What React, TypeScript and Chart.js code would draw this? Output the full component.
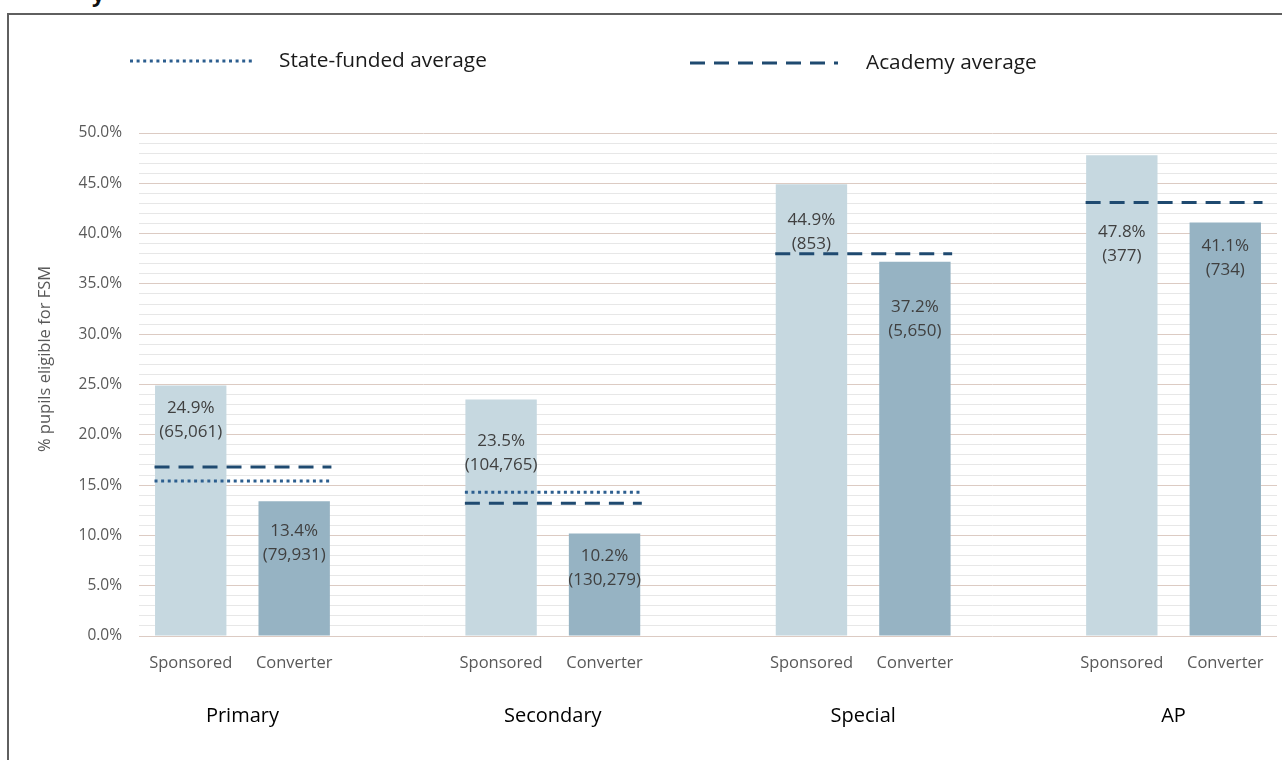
import React, { useEffect, useRef } from 'react';
import { Chart, registerables } from 'chart.js';

Chart.register(...registerables);

// ---------- data ----------
const groups = ['Primary', 'Secondary', 'Special', 'AP'];
const barTypes = ['Sponsored', 'Converter'];
const sponsoredPct = [24.9, 23.5, 44.9, 47.8];
const converterPct = [13.4, 10.2, 37.2, 41.1];
const sponsoredPupils = [65061, 104765, 853, 377];
const converterPupils = [79931, 130279, 5650, 734];
const stateFundedAvg: (number | null)[] = [15.4, 14.3, null, null];
const academyAvg: (number | null)[] = [16.8, 13.2, 38.0, 43.1];
const legendLabels = ['State-funded average', 'Academy average'];
const yAxisTitle = '% pupils eligible for FSM';
const yMin = 0;
const yMax = 50;

// ---------- layout / style (not data) ----------
const FONT = '"Open Sans", "Noto Sans", sans-serif';
const SPONSORED_COLOR = '#c6d8e0';
const CONVERTER_COLOR = '#96b3c3';
const labelOffsets = [[23, 30], [42, 23], [36, 45], [77, 24]];

const slotLabels: string[] = [];
const barValues: (number | null)[] = [];
const barColors: string[] = [];
groups.forEach((_, gi) => {
  slotLabels.push(barTypes[0], barTypes[1]);
  barValues.push(sponsoredPct[gi], converterPct[gi]);
  barColors.push(SPONSORED_COLOR, CONVERTER_COLOR);
  if (gi < groups.length - 1) {
    slotLabels.push('');
    barValues.push(null);
    barColors.push('rgba(0,0,0,0)');
  }
});

const avgLine = (vals: (number | null)[]) => {
  const pts: { x: number; y: number | null }[] = [];
  vals.forEach((v, gi) => {
    if (v == null) return;
    const s = gi * 3;
    pts.push({ x: s - 0.35, y: v }, { x: s + 1.36, y: v }, { x: s + 1.5, y: null });
  });
  return pts;
};

const barLabelPlugin = {
  id: 'barLabels',
  afterDatasetsDraw(chart: any) {
    const meta = chart.getDatasetMeta(0);
    const ctx = chart.ctx;
    ctx.save();
    ctx.font = `17px ${FONT}`;
    ctx.fillStyle = '#404040';
    ctx.textAlign = 'center';
    ctx.textBaseline = 'middle';
    meta.data.forEach((bar: any, i: number) => {
      const v = barValues[i];
      if (v == null) return;
      const gi = Math.floor(i / 3);
      const k = i % 3;
      const count = k === 0 ? sponsoredPupils[gi] : converterPupils[gi];
      const off = labelOffsets[gi][k];
      ctx.fillText(`${v.toFixed(1)}%`, bar.x, bar.y + off);
      ctx.fillText(`(${count.toLocaleString('en-GB')})`, bar.x, bar.y + off + 24);
    });
    ctx.restore();
  },
};

const decorPlugin = {
  id: 'decor',
  afterDraw(chart: any) {
    const ctx = chart.ctx;
    const items = [
      { ds: chart.data.datasets[1], x0: 130, x1: 255, y: 61, tx: 279 },
      { ds: chart.data.datasets[2], x0: 690, x1: 838, y: 63, tx: 866 },
    ];
    ctx.save();
    items.forEach((it) => {
      ctx.beginPath();
      ctx.setLineDash(it.ds.borderDash || []);
      ctx.lineWidth = it.ds.borderWidth;
      ctx.strokeStyle = it.ds.borderColor;
      ctx.moveTo(it.x0, it.y);
      ctx.lineTo(it.x1, it.y);
      ctx.stroke();
      ctx.setLineDash([]);
      ctx.font = `20.8px ${FONT}`;
      ctx.fillStyle = '#1a1a1a';
      ctx.textAlign = 'left';
      ctx.textBaseline = 'middle';
      ctx.fillText(it.ds.label, it.tx, it.y);
    });
    // y-axis title
    ctx.translate(45, 359);
    ctx.rotate(-Math.PI / 2);
    ctx.font = `16.5px ${FONT}`;
    ctx.fillStyle = '#595959';
    ctx.textAlign = 'center';
    ctx.textBaseline = 'middle';
    ctx.fillText(yAxisTitle, 0, 0);
    ctx.restore();
  },
};

export default function App() {
  const ref = useRef<HTMLCanvasElement | null>(null);

  useEffect(() => {
    if (!ref.current) return;
    const chart = new Chart(ref.current, {
      type: 'bar',
      data: {
        labels: slotLabels,
        datasets: [
          {
            type: 'bar',
            label: 'FSM',
            data: barValues,
            backgroundColor: barColors,
            barPercentage: 0.69,
            categoryPercentage: 1,
            grouped: false,
            xAxisID: 'x',
            yAxisID: 'y',
            order: 3,
          } as any,
          {
            type: 'line',
            label: legendLabels[0],
            data: avgLine(stateFundedAvg),
            xAxisID: 'xg',
            yAxisID: 'y',
            borderColor: '#2c5e8f',
            borderWidth: 3,
            borderDash: [3, 3.6],
            pointRadius: 0,
            fill: false,
            spanGaps: false,
            order: 1,
          } as any,
          {
            type: 'line',
            label: legendLabels[1],
            data: avgLine(academyAvg),
            xAxisID: 'xg',
            yAxisID: 'y',
            borderColor: '#1f4a70',
            borderWidth: 3,
            borderDash: [15, 9],
            pointRadius: 0,
            fill: false,
            spanGaps: false,
            order: 0,
          } as any,
        ],
      },
      options: {
        responsive: false,
        animation: false,
        layout: { padding: { top: 133, right: 5, bottom: 14, left: 0 } },
        plugins: { legend: { display: false }, tooltip: { enabled: false } },
        scales: {
          x: {
            type: 'category',
            position: 'bottom',
            offset: true,
            weight: 0,
            grid: { display: false, drawTicks: false },
            border: { display: false },
            ticks: {
              font: { family: FONT, size: 16.5 },
              color: '#595959',
              padding: 17,
              maxRotation: 0,
              autoSkip: false,
            },
            afterFit: (s: any) => {
              s.height = 50;
            },
          },
          xg: {
            type: 'linear',
            position: 'bottom',
            min: -0.5,
            max: 10.5,
            offset: false,
            bounds: 'data',
            weight: 1,
            grid: { display: false, drawTicks: false, offset: false },
            border: { display: false },
            afterBuildTicks: (s: any) => {
              s.ticks = groups.map((_, gi) => ({ value: gi * 3 + 0.5 }));
            },
            ticks: {
              callback: (_v: any, i: number) => groups[i],
              font: { family: FONT, size: 20 },
              color: '#000000',
              padding: 18,
              autoSkip: false,
              maxRotation: 0,
            },
            afterFit: (s: any) => {
              s.height = 60;
            },
          },
          y: {
            min: yMin,
            max: yMax,
            grid: {
              drawTicks: false,
              color: (c: any) => (c.tick && c.tick.value % 5 === 0 ? '#dccbc3' : '#e7e7e7'),
              lineWidth: 1,
            },
            border: { display: false },
            ticks: {
              stepSize: 1,
              autoSkip: false,
              callback: (v: any) => (Number(v) % 5 === 0 ? `${Number(v).toFixed(1)}%` : ''),
              font: { family: FONT, size: 15.5 },
              color: '#595959',
              padding: 17,
            },
            afterFit: (s: any) => {
              s.width = 139;
            },
          },
        } as any,
      },
      plugins: [barLabelPlugin, decorPlugin],
    });
    return () => chart.destroy();
  }, []);

  return (
    <div
      style={{
        position: 'absolute',
        left: 0,
        top: 0,
        width: 1282,
        height: 760,
        overflow: 'hidden',
        background: '#ffffff',
        fontFamily: FONT,
      }}
    >
      <div
        style={{
          position: 'absolute',
          left: 92,
          top: -22,
          fontSize: 22,
          lineHeight: '30px',
          fontWeight: 700,
          color: '#111111',
        }}
      >
        y
      </div>
      <div
        style={{
          position: 'absolute',
          left: 7,
          top: 13,
          width: 1400,
          height: 900,
          border: '2px solid #5f5f5f',
          boxSizing: 'border-box',
        }}
      />
      <canvas
        ref={ref}
        width={1282}
        height={760}
        style={{ position: 'absolute', left: 0, top: 0, width: 1282, height: 760 }}
      />
    </div>
  );
}
